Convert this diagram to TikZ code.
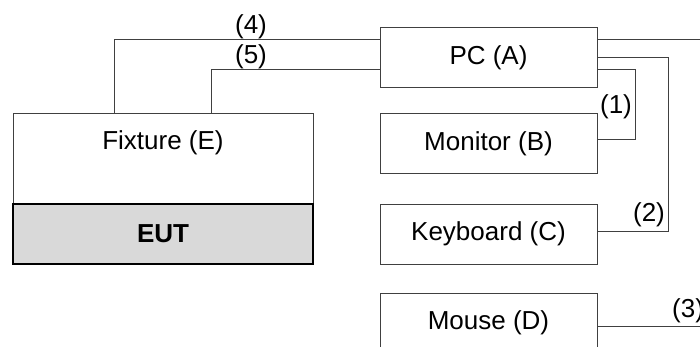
\documentclass[tikz,border=0pt]{standalone}
\usepackage{fontspec}
\setmainfont{Liberation Sans}
\usetikzlibrary{calc}
\definecolor{wire}{HTML}{404040}
\definecolor{eutfill}{HTML}{D9D9D9}
\begin{document}
\begin{tikzpicture}[x=1pt,y=-1pt,
  font=\fontsize{26}{30}\selectfont,
  box/.style={draw=wire,line width=1pt,fill=white,minimum width=217pt,minimum height=60pt,inner sep=0pt,outer sep=0pt},
  bigbox/.style={draw=wire,line width=1pt,fill=white,minimum width=300pt,minimum height=90pt,inner sep=0pt,outer sep=0pt},
  eutbox/.style={draw=black,line width=1.3pt,fill=eutfill,minimum width=300pt,minimum height=60pt,inner sep=0pt,outer sep=0pt,font=\fontsize{26}{30}\selectfont\bfseries},
  wireline/.style={draw=wire,line width=1pt},
  lbl/.style={inner sep=0pt}]
\useasboundingbox (0,0) rectangle (700,347);
\clip (0,0) rectangle (700,347);
\node[box] (A) at (488.5,58) {PC (A)};
\node[box] (B) at (488.5,144) {Monitor (B)};
\node[box] (C) at (488.5,234) {Keyboard (C)};
\node[box] (D) at (488.5,323) {Mouse (D)};
\node[bigbox] (E) at (163,159) {};
\node[inner sep=0pt] (Etext) at (163,143) {Fixture (E)};
\node[eutbox] (U) at (163,234) {EUT};
\coordinate (out4) at (703,40);
\coordinate (out3) at (703,326);
% (4)
\draw[wireline] ($(E.north)+(-49,0)$) |- ($(A.west)+(0,-18)$);
% (5)
\draw[wireline] ($(E.north)+(48,0)$) |- ($(A.west)+(0,12)$);
% to right edge
\draw[wireline] ($(A.east)+(0,-18)$) -- (out4);
% (2)
\draw[wireline] (A.east) -- ++(71,0) |- ($(C.east)+(0,-3)$);
% (1)
\draw[wireline] ($(A.east)+(0,12)$) -- ++(38,0) |- ($(B.east)+(0,-4)$);
% (3)
\draw[wireline] ($(D.east)+(0,3)$) -- (out3);
\node[lbl] (l4) at (251,27) {(4)};
\node[lbl] (l5) at (251,57) {(5)};
\node[lbl] (l1) at (616,107) {(1)};
\node[lbl] (l2) at (649,215) {(2)};
\node[lbl,anchor=west] (l3) at (672,311) {(3)};
\end{tikzpicture}
\end{document}
